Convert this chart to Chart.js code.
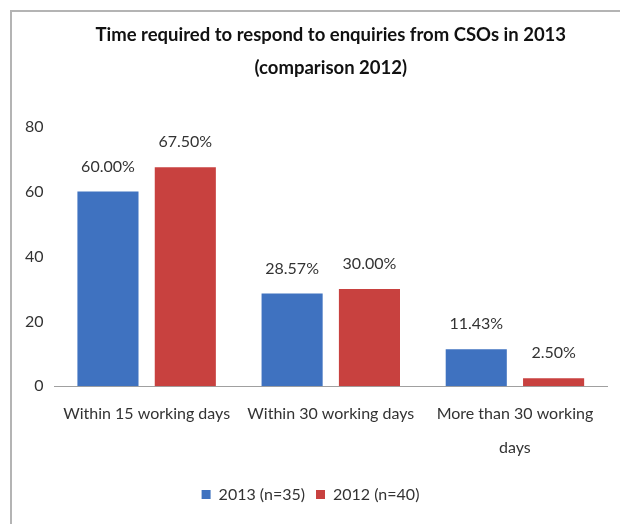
<!DOCTYPE html>
<html>
<head>
<meta charset="utf-8">
<script src="https://cdn.jsdelivr.net/npm/chart.js@4"></script>
<style>
  body { margin: 0; background: #fff; overflow: hidden; }
  #marco {
    position: absolute; left: 10px; top: 10px;
    width: 608px; height: 512px;
    border-top: 2px solid #b4b4b4; border-left: 2px solid #b4b4b4;
  }
</style>
</head>
<body>
<div id="marco"><canvas id="graficarespuesta" width="608" height="512"></canvas></div>
<script>
var categorias = ['Within 15 working days', 'Within 30 working days', ['More than 30 working', 'days']];
var valores2013 = [60.00, 28.57, 11.43];
var valores2012 = [67.50, 30.00, 2.50];
var etiquetasEje = [0, 20, 40, 60, 80];
var series = ['2013 (n=35)', '2012 (n=40)'];

var fuente = 'Lato, "Open Sans", sans-serif';

// escribe el porcentaje encima de cada barra
var porcentajes = {
    id: 'porcentajes',
    afterDatasetsDraw: function(chart){
        var ctx = chart.ctx;
        ctx.save();
        ctx.font = '16px ' + fuente;
        ctx.fillStyle = '#333';
        ctx.textAlign = 'center';
        ctx.textBaseline = 'middle';
        chart.data.datasets.forEach(function(ds, i){
            chart.getDatasetMeta(i).data.forEach(function(barra, j){
                ctx.fillText(ds.data[j].toFixed(2) + '%', barra.x, barra.y - 25);
            });
        });
        ctx.restore();
    }
};

var ctx3 = document.getElementById('graficarespuesta').getContext('2d');
var chart = new Chart(ctx3, {
    type: 'bar',
    data: {
        labels: categorias,
        datasets: [{
            label: series[0],
            data: valores2013,
            backgroundColor: '#3f72c0',
            categoryPercentage: 0.84,
            barPercentage: 0.79
        }, {
            label: series[1],
            data: valores2012,
            backgroundColor: '#c8413f',
            categoryPercentage: 0.84,
            barPercentage: 0.79
        }]
    },
    options: {
        responsive: false,
        animation: false,
        layout: { padding: { left: 2, right: 13, top: 0, bottom: 11.5 } },
        plugins: {
            title: {
                display: true,
                fullSize: false,
                text: ['Time required to respond to enquiries from CSOs in 2013', '(comparison 2012)'],
                color: '#111',
                font: { family: fuente, size: 18.5, weight: 'bold', lineHeight: 1.8 },
                padding: { top: 6, bottom: 42 }
            },
            legend: {
                position: 'bottom',
                labels: {
                    color: '#333',
                    font: { family: fuente, size: 16 },
                    boxWidth: 9,
                    boxHeight: 9,
                    padding: 11
                }
            },
            tooltip: { enabled: false }
        },
        scales: {
            x: {
                grid: { display: false, drawTicks: false },
                border: { display: true, color: '#a0a0a0' },
                ticks: { color: '#333', font: { family: fuente, size: 16, lineHeight: 2.1 }, padding: 11, maxRotation: 0, autoSkip: false }
            },
            y: {
                min: 0,
                max: 80,
                grid: { display: false, drawTicks: false },
                border: { display: false },
                afterBuildTicks: function(eje){
                    eje.ticks = etiquetasEje.map(function(v){ return { value: v }; });
                },
                ticks: { color: '#333', font: { family: fuente, size: 16 }, padding: 11 }
            }
        }
    },
    plugins: [porcentajes]
});
</script>
</body>
</html>
